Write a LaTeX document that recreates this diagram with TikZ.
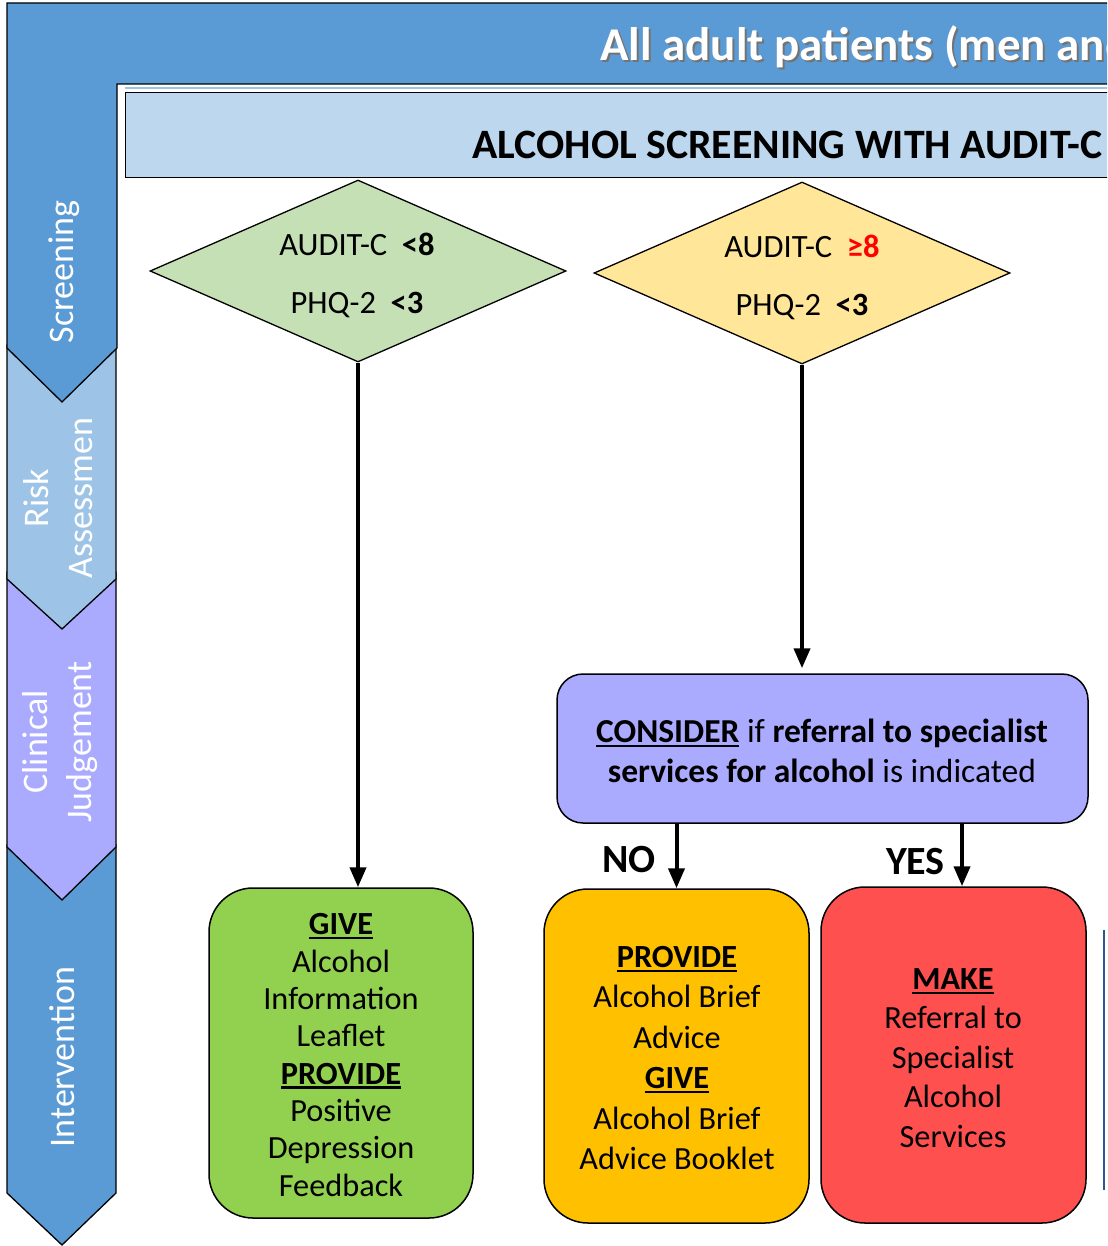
\documentclass[tikz,border=0pt]{standalone}
\usepackage{fontspec}
\setmainfont{Carlito}
\usetikzlibrary{arrows.meta,shapes.geometric,calc}
\definecolor{laneblue}{HTML}{5B9BD5}
\definecolor{lanerisk}{HTML}{9DC3E6}
\definecolor{lanepurple}{HTML}{AAAAFF}
\definecolor{headblue}{HTML}{BDD7EE}
\definecolor{dgreen}{HTML}{C5E0B4}
\definecolor{dyellow}{HTML}{FFE699}
\definecolor{bgreen}{HTML}{92D050}
\definecolor{borange}{HTML}{FFC000}
\definecolor{bred}{HTML}{FF5050}
\definecolor{edgeblue}{HTML}{2F5597}
\newcommand\myul[1]{\leavevmode\setbox0\hbox{#1}\rlap{\copy0}\rule[-4.5pt]{\wd0}{2.2pt}}
\tikzset{
  lane/.style={draw=black, line width=1.3pt, line join=miter},
  lanelabel/.style={text=white, rotate=90, align=center, font=\fontsize{36}{44}\selectfont, inner sep=0},
  decision/.style={diamond, draw=black, line width=1.3pt, inner sep=0, aspect=2.29, minimum width=416pt, minimum height=182pt},
  dtext/.style={align=center, inner sep=0, font=\fontsize{32.5}{58}\selectfont},
  actionbox/.style={draw=black, line width=1.5pt, rounded corners=44pt, inner sep=0},
  flowarrow/.style={line width=4pt, -{Triangle[length=20pt,width=16pt]}},
  boxtext/.style={align=center, inner sep=0},
  branch/.style={font=\fontsize{40}{44}\selectfont\bfseries, inner sep=0}
}
\begin{document}
\begin{tikzpicture}[x=1pt,y=-1pt]
\useasboundingbox (0,0) rectangle (1107,1246);
\begin{scope}
\clip (0,0) rectangle (1107,1246);
\fill[white] (0,0) rectangle (1107,1246);
% lanes (bottom first)
\draw[lane, fill=laneblue] (7,845) -- (116,845) -- (116,1193) -- (62,1245) -- (7,1193) -- cycle;
\draw[lane, fill=lanepurple] (7,572) -- (116,572) -- (116,847) -- (62,900) -- (7,847) -- cycle;
\draw[lane, fill=lanerisk] (7,345) -- (116,345) -- (116,579) -- (62,629) -- (7,579) -- cycle;
\draw[lane, fill=laneblue] (7,3) -- (1110,3) -- (1110,84) -- (117,84) -- (117,348) -- (62,402) -- (7,348) -- cycle;
% lane labels
\node[lanelabel] (lscr) at (64,272) {Screening};
\node[lanelabel] (lrisk) at (58,498) {Risk\\Assessmen};
\node[lanelabel] (lclin) at (60,742) {Clinical\\Judgement};
\node[lanelabel] (lint) at (62,1057) {Intervention};
% title (cut off at the right edge, as in the reference)
\node[anchor=base west, inner sep=0, text=black!55, font=\fontsize{47}{52}\selectfont\bfseries] (titleshadow) at (602,63) {All adult patients (men and};
\node[anchor=base west, inner sep=0, text=white, font=\fontsize{47}{52}\selectfont\bfseries] (title) at (600,61) {All adult patients (men and};
% header
\draw[line width=2pt, color=lanerisk] (125,88) -- (1110,88);
\node[draw=black, line width=1.3pt, fill=headblue, anchor=north west, minimum width=1000pt, minimum height=85pt, inner sep=0] (header) at (125,92) {};
\node[anchor=base west, inner sep=0, font=\fontsize{41.8}{48}\selectfont\bfseries] (headtext) at (472,159) {ALCOHOL SCREENING WITH AUDIT-C};
% decisions
\node[decision, fill=dgreen] (dg) at (358,271) {};
\node[dtext] (dgt) at (357,275) {AUDIT-C\ \ \textbf{<8}\\PHQ-2\ \ \textbf{<3}};
\node[decision, fill=dyellow] (dy) at (802,273) {};
\node[dtext] (dyt) at (802,277) {AUDIT-C\ \ \textbf{\color{red}≥8}\\PHQ-2\ \ \textbf{<3}};
% consider
\node[actionbox, rounded corners=26pt, fill=lanepurple, minimum width=531pt, minimum height=149pt] (cbox) at (822.5,748.5) {};
\node[boxtext, font=\fontsize{33.5}{40}\selectfont] (ctext) at (822,751) {\textbf{\myul{CONSIDER}} if \textbf{referral to specialist}\\\textbf{services for alcohol} is indicated};
% intervention boxes
\node[actionbox, fill=bgreen, minimum width=264pt, minimum height=330pt] (gbox) at (341,1053) {};
\node[boxtext, font=\fontsize{32.3}{37.3}\selectfont] (gtext) at (341,1055) {\textbf{\myul{GIVE}}\\Alcohol\\Information\\Leaflet\\\textbf{\myul{PROVIDE}}\\Positive\\Depression\\Feedback};
\node[actionbox, fill=borange, minimum width=265pt, minimum height=334pt] (obox) at (676.5,1056) {};
\node[boxtext, font=\fontsize{32.3}{40.4}\selectfont] (otext) at (677,1058) {\textbf{\myul{PROVIDE}}\\Alcohol Brief\\Advice\\\textbf{\myul{GIVE}}\\Alcohol Brief\\Advice Booklet};
\node[actionbox, fill=bred, minimum width=265pt, minimum height=336pt] (rbox) at (953.5,1055) {};
\node[boxtext, font=\fontsize{32.3}{39.5}\selectfont] (rtext) at (953,1058) {\textbf{\myul{MAKE}}\\Referral to\\Specialist\\Alcohol\\Services};
% cut-off box edge at right
\coordinate (edgetop) at (1104,930);
\coordinate (edgebot) at (1104,1190);
\draw[edgeblue, line width=1.2pt] (edgetop) -- (edgebot);
% arrows
\draw[flowarrow] (dg.south) -- (dg.south |- gbox.north);
\draw[flowarrow, shorten >=5pt] (dy.south) -- (dy.south |- cbox.north);
\coordinate (yesx) at (962,0);
\draw[flowarrow] (obox.north |- cbox.south) -- (obox.north);
\draw[flowarrow] (yesx |- cbox.south) -- (yesx |- rbox.north);
\node[branch, anchor=base east] (nolab) at (656,872) {NO};
\node[branch, anchor=base east] (yeslab) at (945,874) {YES};
\end{scope}
\end{tikzpicture}
\end{document}
